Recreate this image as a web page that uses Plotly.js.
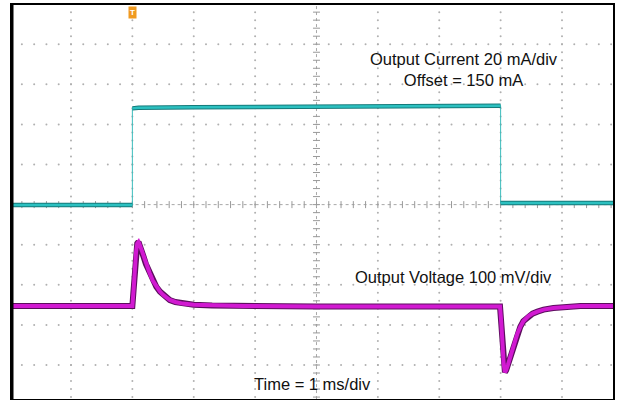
<!DOCTYPE html>
<html>
<head>
<meta charset="utf-8">
<script src="https://cdn.plot.ly/plotly-3.0.1.min.js"></script>
<style>html,body{margin:0;padding:0;background:#fff;}#chart{width:618px;height:400px;}</style>
</head>
<body>
<div id="chart"></div>
<script>
// ---- Data (time in ms, 1 ms/div) ----
const timeCurrent = [0, 2.0, 2.0, 2.1, 3.0, 4.0, 5.0, 6.0, 7.0, 8.0, 8.0, 9.0, 10.0];
const currentMA   = [149.8, 149.8, 198.0, 198.3, 198.6, 198.8, 199.0, 199.1, 199.2, 199.3, 150.8, 150.8, 150.8];

const timeVoltage = [0, 2.0, 2.02, 2.04, 2.06, 2.08, 2.10, 2.12, 2.15, 2.18, 2.22, 2.28, 2.33, 2.39, 2.45,
                     2.5, 2.55, 2.61, 2.7, 2.82, 3.0, 3.3, 3.8, 5.0,
                     7.99, 8.01, 8.03, 8.05, 8.07, 8.09, 8.12, 8.16, 8.21, 8.27, 8.32, 8.37, 8.45,
                     8.52, 8.6, 8.7, 8.86, 9.05, 9.3, 10.0];
const voltageMV   = [0, 0, 40, 95, 135, 156, 160, 153, 139, 124, 105, 83, 64, 48, 36,
                     28, 21, 15, 10, 6, 3, 1, 0, -1,
                     -1, -40, -100, -145, -165, -160, -146, -125, -97, -70, -52, -38, -26,
                     -19, -14, -9, -5, -2, 0, 0];

const labels = {
  current: 'Output Current 20 mA/div<br>Offset = 150 mA',
  voltage: 'Output Voltage 100 mV/div',
  time: 'Time = 1 ms/div',
  trigger: 'T'
};

// scope scale settings
const currentPerDiv = 20, currentOffset = 150;
const voltagePerDiv = 100, voltageBaselineDiv = -2.529;
const divRange = [-4.848, 4.978];

// ---- graticule dots ----
const gx = [], gy = [];
for (let k = -4; k <= 4; k++) {
  if (k === 0) continue;
  for (let i = 0; i <= 50; i++) { gx.push(i * 0.2); gy.push(k); }
}
for (let d = 1; d <= 9; d++) {
  if (d === 5) continue;
  for (let j = 0; j <= 50; j++) { gx.push(d); gy.push(-5 + j * 0.2); }
}
const hx = [], hy = [], vx = [], vy = [];
for (let i = 0; i <= 50; i++) { hx.push(i * 0.2); hy.push(0); vx.push(5); vy.push(-5 + i * 0.2); }

// band version of the current (plateaus only, edges broken)
const bandT = [], bandI = [];
for (let i = 0; i < timeCurrent.length; i++) {
  if (i > 0 && Math.abs(timeCurrent[i] - timeCurrent[i - 1]) < 0.01) { bandT.push(null); bandI.push(null); }
  bandT.push(timeCurrent[i]); bandI.push(currentMA[i]);
}

const traces = [
  {x: gx, y: gy, mode: 'markers', type: 'scatter', hoverinfo: 'skip',
   marker: {size: 2, color: '#b0b0b0'}},
  {x: hx, y: hy, mode: 'lines+markers', type: 'scatter', hoverinfo: 'skip',
   line: {color: '#a8a8a8', width: 1, dash: 'dot'},
   marker: {symbol: 'line-ns', size: 5, line: {color: '#999', width: 1}}},
  {x: vx, y: vy, mode: 'lines+markers', type: 'scatter', hoverinfo: 'skip',
   line: {color: '#a8a8a8', width: 1, dash: 'dot'},
   marker: {symbol: 'line-ew', size: 5, line: {color: '#999', width: 1}}},
  // current: thin full trace
  {x: timeCurrent, y: currentMA, yaxis: 'y2', mode: 'lines', type: 'scatter',
   line: {color: '#3cbcbc', width: 1}},
  // current: band
  {x: bandT, y: bandI, yaxis: 'y2', mode: 'lines', type: 'scatter', connectgaps: false,
   line: {color: '#157a7a', width: 4.5}},
  {x: bandT, y: bandI, yaxis: 'y2', mode: 'lines', type: 'scatter', connectgaps: false,
   line: {color: '#2cc0c0', width: 2.5}},
  // voltage band
  {x: timeVoltage, y: voltageMV, yaxis: 'y3', mode: 'lines', type: 'scatter',
   line: {color: '#5c0e5e', width: 6}},
  {x: timeVoltage, y: voltageMV, yaxis: 'y3', mode: 'lines', type: 'scatter',
   line: {color: '#d11ad1', width: 4}}
];

const font = {family: 'Liberation Sans, Arial, Helvetica, sans-serif', color: '#111', size: 16.5};

const layout = {
  width: 618, height: 400,
  margin: {l: 12, r: 5, t: 5, b: 1, pad: 0},
  paper_bgcolor: '#fff', plot_bgcolor: '#fff',
  showlegend: false,
  xaxis: {range: [0.039, 9.831], showgrid: false, zeroline: false, showticklabels: false, ticks: '',
          showline: true, mirror: true, linecolor: '#000', linewidth: 2},
  yaxis: {range: divRange, showgrid: false, zeroline: false, showticklabels: false, ticks: '',
          showline: true, mirror: true, linecolor: '#000', linewidth: 2},
  yaxis2: {overlaying: 'y', visible: false,
           range: divRange.map(v => currentOffset + v * currentPerDiv)},
  yaxis3: {overlaying: 'y', visible: false,
           range: divRange.map(v => (v - voltageBaselineDiv) * voltagePerDiv)},
  shapes: [
    {type: 'line', xref: 'paper', yref: 'paper', x0: 0, x1: 0, y0: 0, y1: 1,
     line: {color: '#000', width: 3}}
  ],
  annotations: [
    {x: 7.40, y: 3.38, xref: 'x', yref: 'y', text: labels.current, showarrow: false,
     font: font, align: 'center'},
    {x: 7.225, y: -1.805, xref: 'x', yref: 'y', text: labels.voltage, showarrow: false, font: font},
    {x: 4.94, y: -4.47, xref: 'x', yref: 'y', text: labels.time, showarrow: false, font: font},
    {x: 2.01, y: 4.80, xref: 'x', yref: 'y', text: '<b>' + labels.trigger + '</b>', showarrow: false,
     font: {family: 'Liberation Sans, Arial, sans-serif', size: 8, color: '#fff'},
     bgcolor: '#f09a20', borderpad: 1}
  ]
};

Plotly.newPlot('chart', traces, layout, {staticPlot: true, displayModeBar: false});
</script>
</body>
</html>
